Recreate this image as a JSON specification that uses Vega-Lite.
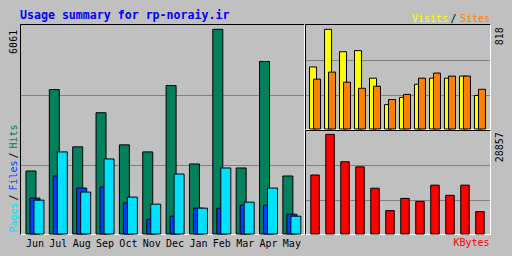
{
  "$schema": "https://vega.github.io/schema/vega-lite/v6.json",
  "background": "#C0C0C0",
  "padding": {"left": 7, "top": 10, "right": 12, "bottom": 12},
  "title": {"text": "Usage summary for rp-noraiy.ir", "anchor": "start", "frame": "group", "font": "DejaVu Sans Mono", "fontSize": 11.6, "fontWeight": "bold", "color": "#0000FF", "offset": -9},
  "config": {
    "view": {"stroke": null},
    "font": "DejaVu Sans Mono",
    "axis": {"title": null, "labelFont": "DejaVu Sans Mono", "labelFontSize": 10, "labelColor": "#000000", "grid": false, "ticks": false, "tickSize": 0, "domainColor": "#000000", "domainWidth": 1, "gridColor": "#808080", "gridWidth": 1, "labelOverlap": false, "labelFlush": false, "labelBound": false},
    "bar": {"stroke": "#000000", "strokeWidth": 1}
  },
  "data": {"values": [
    {"month": "Jun", "hits": 1866, "files": 1062, "pages": 1003, "visits": 509, "sites": 409, "kbytes": 17079},
    {"month": "Jul", "hits": 4276, "files": 1717, "pages": 2431, "visits": 818, "sites": 467, "kbytes": 28857},
    {"month": "Aug", "hits": 2580, "files": 1360, "pages": 1241, "visits": 634, "sites": 384, "kbytes": 20907},
    {"month": "Sep", "hits": 3591, "files": 1390, "pages": 2223, "visits": 643, "sites": 334, "kbytes": 19434},
    {"month": "Oct", "hits": 2639, "files": 922, "pages": 1092, "visits": 417, "sites": 351, "kbytes": 13251},
    {"month": "Nov", "hits": 2431, "files": 437, "pages": 884, "visits": 200, "sites": 242, "kbytes": 6773},
    {"month": "Dec", "hits": 4395, "files": 527, "pages": 1776, "visits": 259, "sites": 284, "kbytes": 10306},
    {"month": "Jan", "hits": 2074, "files": 765, "pages": 765, "visits": 367, "sites": 417, "kbytes": 9423},
    {"month": "Feb", "hits": 6061, "files": 765, "pages": 1955, "visits": 417, "sites": 459, "kbytes": 14134},
    {"month": "Mar", "hits": 1955, "files": 854, "pages": 943, "visits": 417, "sites": 434, "kbytes": 11189},
    {"month": "Apr", "hits": 5109, "files": 854, "pages": 1360, "visits": 434, "sites": 434, "kbytes": 14134},
    {"month": "May", "hits": 1717, "files": 586, "pages": 527, "visits": 275, "sites": 326, "kbytes": 6478}
  ]},
  "bounds": "flush",
  "spacing": 1,
  "hconcat": [
    {
      "width": 284, "height": 210,
      "layer": [
        {
          "mark": {"type": "bar", "width": 10, "xOffset": -4, "fill": "#00805C"},
          "encoding": {
            "x": {"field": "month", "type": "ordinal", "sort": null, "scale": {"paddingInner": 0, "paddingOuter": 0.08, "align": 0.88},
                  "axis": {"orient": "bottom", "domainColor": "#FFFFFF", "labelAngle": 0, "labelPadding": 4}},
            "y": {"field": "hits", "type": "quantitative", "scale": {"domain": [0, 6218], "nice": false, "zero": true},
                  "axis": {"orient": "left", "values": [59, 1007, 1303, 2250, 2546, 6061], "labelAngle": 270, "labelBaseline": "middle", "labelPadding": 7,
                           "labelExpr": "datum.value == 6061 ? '6061' : datum.value == 59 ? 'Pages' : datum.value == 1303 ? 'Files' : datum.value == 2546 ? 'Hits' : '/'",
                           "labelAlign": {"condition": {"test": "datum.value == 6061", "value": "right"}, "value": "left"},
                           "labelColor": {"condition": [{"test": "datum.value == 59", "value": "#00E0FF"}, {"test": "datum.value == 1303", "value": "#0040FF"}, {"test": "datum.value == 2546", "value": "#00805C"}], "value": "#000000"}}}
          }
        },
        {
          "mark": {"type": "bar", "width": 10, "xOffset": 0, "fill": "#0040FF"},
          "encoding": {
            "x": {"field": "month", "type": "ordinal", "sort": null, "scale": {"paddingInner": 0, "paddingOuter": 0.08, "align": 0.88},
                  "axis": {"orient": "top", "labels": false, "domainColor": "#000000"}},
            "y": {"field": "files", "type": "quantitative", "scale": {"domain": [0, 6218], "nice": false, "zero": true},
                  "axis": {"orient": "right", "labels": false, "grid": true, "values": [2043, 4107], "domainColor": "#FFFFFF"}}
          }
        },
        {
          "mark": {"type": "bar", "width": 10, "xOffset": 4, "fill": "#00E0FF"},
          "encoding": {
            "x": {"field": "month", "type": "ordinal", "sort": null, "scale": {"paddingInner": 0, "paddingOuter": 0.08, "align": 0.88}, "axis": null},
            "y": {"field": "pages", "type": "quantitative", "scale": {"domain": [0, 6218], "nice": false, "zero": true}, "axis": null}
          }
        }
      ],
      "resolve": {"axis": {"x": "independent", "y": "independent"}}
    },
    {
      "bounds": "flush",
      "spacing": 1,
      "vconcat": [
        {
          "width": 185, "height": 105,
          "layer": [
            {
              "mark": {"type": "bar", "width": 7, "xOffset": -2, "fill": "#FFFF00"},
              "encoding": {
                "x": {"field": "month", "type": "ordinal", "sort": null, "scale": {"paddingInner": 0, "paddingOuter": 0.17, "align": 0.5},
                      "axis": {"orient": "top", "domainColor": "#000000", "values": ["Feb", "Mar", "May"], "labelAngle": 0, "labelBaseline": "alphabetic", "labelPadding": 3,
                               "labelExpr": "datum.value == 'Feb' ? 'Visits' : datum.value == 'Mar' ? '/' : 'Sites'",
                               "labelOffset": {"condition": {"test": "datum.value == 'Mar'", "value": 3.5}, "value": -5},
                               "labelColor": {"condition": [{"test": "datum.value == 'Feb'", "value": "#FFFF00"}, {"test": "datum.value == 'May'", "value": "#FF8000"}], "value": "#000000"}}},
                "y": {"field": "visits", "type": "quantitative", "scale": {"domain": [0, 861.5], "nice": false, "zero": true},
                      "axis": {"orient": "left", "labels": false, "grid": true, "values": [276.5, 564], "domainColor": "#000000"}}
              }
            },
            {
              "mark": {"type": "bar", "width": 7, "xOffset": 2, "fill": "#FF8000"},
              "encoding": {
                "x": {"field": "month", "type": "ordinal", "sort": null, "scale": {"paddingInner": 0, "paddingOuter": 0.17, "align": 0.5},
                      "axis": {"orient": "bottom", "labels": false, "domainColor": "#FFFFFF"}},
                "y": {"field": "sites", "type": "quantitative", "scale": {"domain": [0, 861.5], "nice": false, "zero": true},
                      "axis": {"orient": "right", "values": [818], "format": "d", "domainColor": "#FFFFFF", "labelAngle": 270, "labelAlign": "right", "labelBaseline": "middle", "labelPadding": 9, "labelOffset": -2.6}}
              }
            }
          ],
          "resolve": {"axis": {"x": "independent", "y": "independent"}}
        },
        {
          "width": 185, "height": 104,
          "layer": [
            {
              "mark": {"type": "bar", "width": 8.5, "fill": "#FF0000"},
              "encoding": {
                "x": {"field": "month", "type": "ordinal", "sort": null, "scale": {"paddingInner": 0, "paddingOuter": 0.17, "align": 0.5},
                      "axis": {"orient": "bottom", "domainColor": "#FFFFFF", "values": ["Apr"], "labelExpr": "'KBytes'", "labelColor": "#FF0000", "labelAngle": 0, "labelOffset": 6.5, "labelPadding": 3}},
                "y": {"field": "kbytes", "type": "quantitative", "scale": {"domain": [0, 30102], "nice": false, "zero": true},
                      "axis": {"orient": "left", "labels": false, "grid": true, "values": [9754, 19885], "domainColor": "#000000"}}
              }
            },
            {
              "mark": {"type": "bar", "width": 8.5, "opacity": 0},
              "encoding": {
                "x": {"field": "month", "type": "ordinal", "sort": null, "scale": {"paddingInner": 0, "paddingOuter": 0.17, "align": 0.5},
                      "axis": {"orient": "top", "labels": false, "domainColor": "#000000"}},
                "y": {"field": "kbytes", "type": "quantitative", "scale": {"domain": [0, 30102], "nice": false, "zero": true},
                      "axis": {"orient": "right", "values": [28857], "format": "d", "domainColor": "#FFFFFF", "labelAngle": 270, "labelAlign": "right", "labelBaseline": "middle", "labelPadding": 9, "labelOffset": -2.6}}
              }
            }
          ],
          "resolve": {"axis": {"x": "independent", "y": "independent"}}
        }
      ]
    }
  ]
}
